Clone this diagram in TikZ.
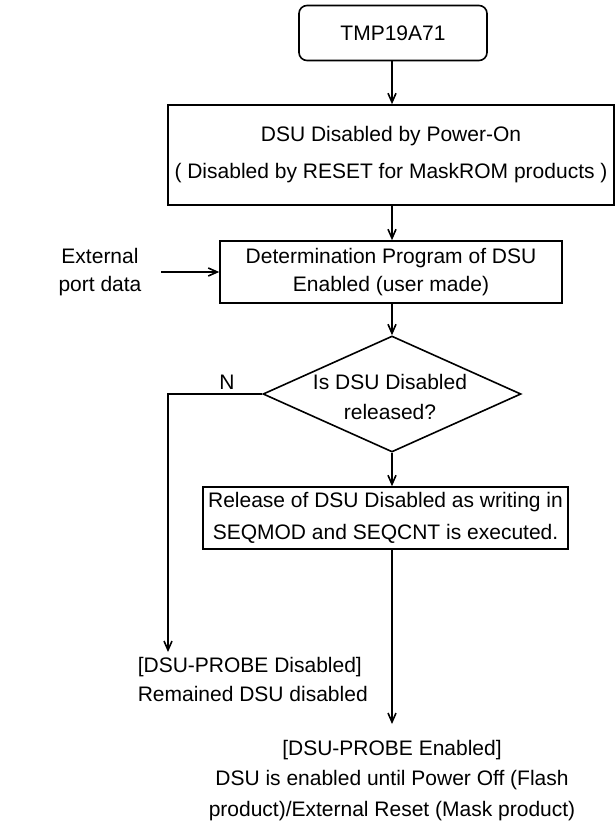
\documentclass[tikz,border=0pt]{standalone}
\usepackage{fontspec}
\setmainfont{Liberation Sans}
\usetikzlibrary{shapes.geometric,arrows.meta}

\begin{document}
\begin{tikzpicture}[x=1pt,y=-1pt,line width=1.6pt,
    font=\fontsize{21}{28}\selectfont,
    box/.style={draw,rectangle,inner sep=0pt,align=center},
    txt/.style={inner sep=0pt,align=center},
    decision/.style={draw,diamond,inner sep=0pt,minimum width=258pt,minimum height=116pt},
    flow/.style={-{Straight Barb[length=9pt,width=8pt]}}]
  \useasboundingbox (0,0) rectangle (615,837);

  % chip and start-up state
  \node[box,rounded corners=8pt,minimum width=188pt,minimum height=55pt] (chip) at (393,33) {TMP19A71};
  \node[box,minimum width=446pt,minimum height=100pt] (pwron) at (391,155)
    {DSU Disabled by Power-On\\[9pt]( Disabled by RESET for MaskROM products )};
  \node[box,minimum width=342pt,minimum height=62pt] (prog) at (391,272)
    {Determination Program of DSU\\Enabled (user made)};
  \node[txt] (ext) at (100,272) {External\\port data};

  % decision
  \node[decision] (dec) at (392,394) {};
  \node[txt] (dectext) at (390,397) {Is DSU Disabled\\[2pt]released?};
  \node[txt] (no) at (227,382) {N};
  \node[box,minimum width=365pt,minimum height=62pt] (rel) at (385.5,518)
    {Release of DSU Disabled as writing in\\[4pt]SEQMOD and SEQCNT is executed.};

  % results
  \node[txt,align=left,anchor=north west] (dsbl) at (137,656)
    {[DSU-PROBE Disabled]\\[1pt]Remained DSU disabled};
  \node[txt,anchor=north] (enbl) at (392,739)
    {[DSU-PROBE Enabled]\\[2.5pt]DSU is enabled until Power Off (Flash\\[2.5pt]product)/External Reset (Mask product)};
  \coordinate (nturn) at (168,394);
  \coordinate (nend) at (168,652);
  \coordinate (yend) at (392,724);

  \draw[flow] (chip.south -| dec) -- (pwron.north -| dec);
  \draw[flow] (pwron.south -| dec) -- (prog.north -| dec);
  \draw[flow] ([xshift=19pt]ext.east) -- (prog.west);
  \draw[flow] (prog.south -| dec) -- (dec.north);
  \draw[flow] (dec.west) -- (nturn) -- (nend);
  \draw[flow] (dec.south) -- (rel.north -| dec);
  \draw[flow] (rel.south -| dec) -- (yend);
\end{tikzpicture}
\end{document}
